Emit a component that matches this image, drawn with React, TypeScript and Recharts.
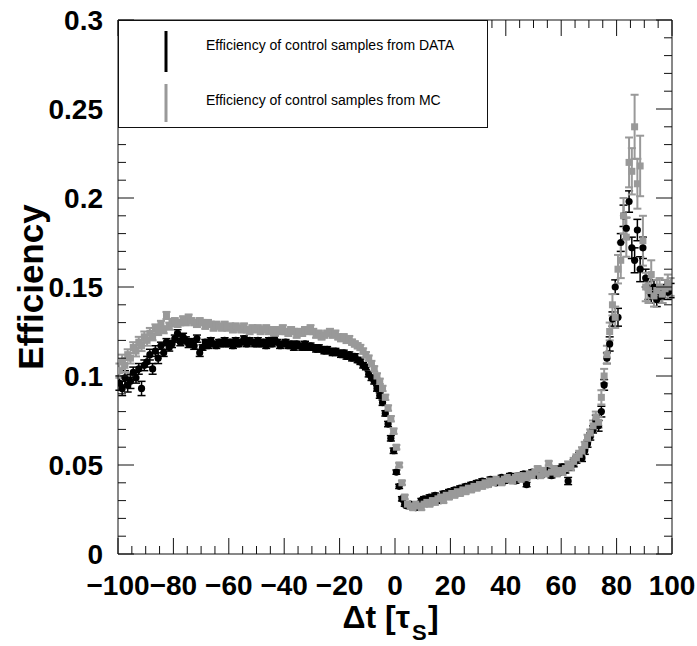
import React from "react";
import { ScatterChart, Scatter, XAxis, YAxis, ErrorBar } from "recharts";

// Bin centers of the Δt histogram (1 τS wide bins)
const BIN_CENTERS = [
  -99.5, -98.5, -97.5, -96.5, -95.5, -94.5, -93.5, -92.5, -91.5, -90.5,
  -89.5, -88.5, -87.5, -86.5, -85.5, -84.5, -83.5, -82.5, -81.5, -80.5,
  -79.5, -78.5, -77.5, -76.5, -75.5, -74.5, -73.5, -72.5, -71.5, -70.5,
  -69.5, -68.5, -67.5, -66.5, -65.5, -64.5, -63.5, -62.5, -61.5, -60.5,
  -59.5, -58.5, -57.5, -56.5, -55.5, -54.5, -53.5, -52.5, -51.5, -50.5,
  -49.5, -48.5, -47.5, -46.5, -45.5, -44.5, -43.5, -42.5, -41.5, -40.5,
  -39.5, -38.5, -37.5, -36.5, -35.5, -34.5, -33.5, -32.5, -31.5, -30.5,
  -29.5, -28.5, -27.5, -26.5, -25.5, -24.5, -23.5, -22.5, -21.5, -20.5,
  -19.5, -18.5, -17.5, -16.5, -15.5, -14.5, -13.5, -12.5, -11.5, -10.5,
  -9.5, -8.5, -7.5, -6.5, -5.5, -4.5, -3.5, -2.5, -1.5, -0.5,
  0.5, 1.5, 2.5, 3.5, 4.5, 5.5, 6.5, 7.5, 8.5, 9.5,
  10.5, 11.5, 12.5, 13.5, 14.5, 15.5, 16.5, 17.5, 18.5, 19.5,
  20.5, 21.5, 22.5, 23.5, 24.5, 25.5, 26.5, 27.5, 28.5, 29.5,
  30.5, 31.5, 32.5, 33.5, 34.5, 35.5, 36.5, 37.5, 38.5, 39.5,
  40.5, 41.5, 42.5, 43.5, 44.5, 45.5, 46.5, 47.5, 48.5, 49.5,
  50.5, 51.5, 52.5, 53.5, 54.5, 55.5, 56.5, 57.5, 58.5, 59.5,
  60.5, 61.5, 62.5, 63.5, 64.5, 65.5, 66.5, 67.5, 68.5, 69.5,
  70.5, 71.5, 72.5, 73.5, 74.5, 75.5, 76.5, 77.5, 78.5, 79.5,
  80.5, 81.5, 82.5, 83.5, 84.5, 85.5, 86.5, 87.5, 88.5, 89.5,
  90.5, 91.5, 92.5, 93.5, 94.5, 95.5, 96.5, 97.5, 98.5, 99.5,
];

// Efficiency of control samples from DATA
const DATA_EFF = [
  0.096, 0.093, 0.099, 0.095, 0.097, 0.102, 0.099, 0.104, 0.093, 0.106,
  0.108, 0.112, 0.104, 0.114, 0.110, 0.117, 0.113, 0.119, 0.116, 0.118,
  0.121, 0.124, 0.119, 0.122, 0.120, 0.118, 0.119, 0.117, 0.121, 0.113,
  0.116, 0.119, 0.117, 0.120, 0.118, 0.117, 0.119, 0.118, 0.120, 0.118,
  0.119, 0.117, 0.120, 0.118, 0.119, 0.121, 0.118, 0.120, 0.119, 0.118,
  0.120, 0.118, 0.119, 0.117, 0.120, 0.118, 0.121, 0.119, 0.117, 0.118,
  0.119, 0.117, 0.118, 0.116, 0.118, 0.117, 0.116, 0.118, 0.116, 0.117,
  0.116, 0.115, 0.116, 0.115, 0.114, 0.115, 0.114, 0.113, 0.114, 0.113,
  0.112, 0.113, 0.111, 0.112, 0.110, 0.111, 0.109, 0.108, 0.106, 0.105,
  0.101, 0.099, 0.097, 0.093, 0.089, 0.085, 0.079, 0.073, 0.065, 0.058,
  0.046, 0.038, 0.031, 0.028, 0.027, 0.028, 0.027, 0.026, 0.028, 0.030,
  0.031, 0.030, 0.032, 0.031, 0.033, 0.032, 0.030, 0.034, 0.033, 0.035,
  0.034, 0.036, 0.035, 0.037, 0.036, 0.038, 0.037, 0.039, 0.038, 0.040,
  0.039, 0.041, 0.040, 0.039, 0.042, 0.041, 0.040, 0.042, 0.043, 0.041,
  0.042, 0.044, 0.043, 0.041, 0.044, 0.043, 0.045, 0.039, 0.044, 0.046,
  0.045, 0.044, 0.046, 0.045, 0.047, 0.046, 0.044, 0.047, 0.048, 0.046,
  0.049, 0.047, 0.041, 0.049, 0.051, 0.053, 0.055, 0.054, 0.058, 0.062,
  0.066, 0.070, 0.075, 0.072, 0.080, 0.095, 0.110, 0.118, 0.132, 0.150,
  0.133, 0.175, 0.190, 0.183, 0.198, 0.172, 0.165, 0.182, 0.160, 0.172,
  0.155, 0.148, 0.146, 0.150, 0.143, 0.147, 0.145, 0.150, 0.147, 0.148,
];

const DATA_ERR = [
  0.004, 0.004, 0.004, 0.004, 0.004, 0.003, 0.003, 0.003, 0.004, 0.003,
  0.003, 0.003, 0.003, 0.003, 0.003, 0.002, 0.002, 0.002, 0.002, 0.002,
  0.002, 0.002, 0.002, 0.002, 0.002, 0.002, 0.002, 0.002, 0.002, 0.002,
  0.0015, 0.0015, 0.0015, 0.0015, 0.0015, 0.0015, 0.0015, 0.0015, 0.0015, 0.0015,
  0.0015, 0.0015, 0.0015, 0.0015, 0.0015, 0.0015, 0.0015, 0.0015, 0.0015, 0.0015,
  0.0015, 0.0015, 0.0015, 0.0015, 0.0015, 0.0015, 0.0015, 0.0015, 0.0015, 0.0015,
  0.0015, 0.0015, 0.0015, 0.0015, 0.0015, 0.0015, 0.0015, 0.0015, 0.0015, 0.0015,
  0.0015, 0.0015, 0.0015, 0.0015, 0.0015, 0.0015, 0.0015, 0.0015, 0.0015, 0.0015,
  0.0015, 0.0015, 0.0015, 0.0015, 0.0015, 0.0015, 0.0015, 0.0015, 0.0015, 0.0015,
  0.0015, 0.0015, 0.0015, 0.0015, 0.0015, 0.0015, 0.0015, 0.0015, 0.0015, 0.0015,
  0.0012, 0.0012, 0.0012, 0.0012, 0.0012, 0.0012, 0.0012, 0.0012, 0.0012, 0.0012,
  0.0012, 0.0012, 0.0012, 0.0012, 0.0012, 0.0012, 0.0012, 0.0012, 0.0012, 0.0012,
  0.0012, 0.0012, 0.0012, 0.0012, 0.0012, 0.0012, 0.0012, 0.0012, 0.0012, 0.0012,
  0.0012, 0.0012, 0.0012, 0.0012, 0.0012, 0.0012, 0.0012, 0.0012, 0.0012, 0.0012,
  0.0012, 0.0012, 0.0012, 0.0012, 0.0012, 0.0012, 0.0012, 0.0012, 0.0012, 0.0012,
  0.0012, 0.0012, 0.0012, 0.0012, 0.0012, 0.0012, 0.0012, 0.0012, 0.0012, 0.0012,
  0.0015, 0.0015, 0.002, 0.002, 0.002, 0.002, 0.002, 0.002, 0.002, 0.002,
  0.002, 0.002, 0.003, 0.003, 0.003, 0.003, 0.003, 0.004, 0.004, 0.004,
  0.005, 0.005, 0.006, 0.006, 0.006, 0.006, 0.007, 0.006, 0.007, 0.006,
  0.005, 0.005, 0.005, 0.004, 0.004, 0.004, 0.004, 0.004, 0.004, 0.004,
];

// Efficiency of control samples from MC
const MC_EFF = [
  0.103, 0.108, 0.106, 0.112, 0.110, 0.116, 0.114, 0.119, 0.117, 0.122,
  0.120, 0.124, 0.122, 0.127, 0.125, 0.129, 0.126, 0.134, 0.128, 0.130,
  0.131, 0.129, 0.130, 0.132, 0.130, 0.133, 0.131, 0.130, 0.129, 0.131,
  0.130, 0.128, 0.130, 0.129, 0.127, 0.129, 0.128, 0.127, 0.129, 0.127,
  0.128, 0.126, 0.128, 0.127, 0.126, 0.128, 0.126, 0.125, 0.127, 0.126,
  0.127, 0.125, 0.126, 0.127, 0.125, 0.126, 0.124, 0.126, 0.125, 0.127,
  0.125, 0.124, 0.126, 0.125, 0.123, 0.125, 0.124, 0.126, 0.125, 0.127,
  0.125, 0.123, 0.124, 0.122, 0.123, 0.124, 0.125, 0.123, 0.124, 0.122,
  0.121, 0.122, 0.120, 0.121, 0.119, 0.118, 0.117, 0.116, 0.114, 0.112,
  0.110, 0.107, 0.104, 0.100, 0.097, 0.093, 0.088, 0.082, 0.076, 0.069,
  0.060, 0.050, 0.040, 0.032, 0.028, 0.027, 0.026, 0.028, 0.027, 0.026,
  0.028, 0.029, 0.028, 0.030, 0.029, 0.031, 0.032, 0.030, 0.033, 0.032,
  0.034, 0.033, 0.035, 0.034, 0.036, 0.035, 0.037, 0.036, 0.038, 0.037,
  0.039, 0.038, 0.040, 0.039, 0.041, 0.040, 0.042, 0.041, 0.040, 0.042,
  0.043, 0.042, 0.041, 0.043, 0.044, 0.042, 0.044, 0.043, 0.045, 0.044,
  0.046, 0.048, 0.044, 0.047, 0.045, 0.051, 0.046, 0.048, 0.045, 0.047,
  0.046, 0.048, 0.050, 0.049, 0.052, 0.054, 0.056, 0.058, 0.061, 0.065,
  0.068, 0.072, 0.077, 0.074, 0.088, 0.100, 0.112, 0.125, 0.140, 0.133,
  0.160, 0.165, 0.190, 0.178, 0.220, 0.215, 0.240, 0.208, 0.218, 0.176,
  0.150, 0.148, 0.157, 0.145, 0.148, 0.150, 0.146, 0.149, 0.152, 0.150,
];

const MC_ERR = [
  0.004, 0.004, 0.004, 0.003, 0.003, 0.003, 0.003, 0.003, 0.003, 0.003,
  0.003, 0.003, 0.002, 0.002, 0.002, 0.002, 0.002, 0.002, 0.002, 0.002,
  0.0015, 0.0015, 0.0015, 0.0015, 0.0015, 0.0015, 0.0015, 0.0015, 0.0015, 0.0015,
  0.0015, 0.0015, 0.0015, 0.0015, 0.0015, 0.0015, 0.0015, 0.0015, 0.0015, 0.0015,
  0.0015, 0.0015, 0.0015, 0.0015, 0.0015, 0.0015, 0.0015, 0.0015, 0.0015, 0.0015,
  0.0015, 0.0015, 0.0015, 0.0015, 0.0015, 0.0015, 0.0015, 0.0015, 0.0015, 0.0015,
  0.0015, 0.0015, 0.0015, 0.0015, 0.0015, 0.0015, 0.0015, 0.0015, 0.0015, 0.0015,
  0.0015, 0.0015, 0.0015, 0.0015, 0.0015, 0.0015, 0.0015, 0.0015, 0.0015, 0.0015,
  0.0015, 0.0015, 0.0015, 0.0015, 0.0015, 0.0015, 0.0015, 0.0015, 0.0015, 0.0015,
  0.0015, 0.0015, 0.0015, 0.0015, 0.0015, 0.0015, 0.0015, 0.0015, 0.0015, 0.0015,
  0.0012, 0.0012, 0.0012, 0.0012, 0.0012, 0.0012, 0.0012, 0.0012, 0.0012, 0.0012,
  0.0012, 0.0012, 0.0012, 0.0012, 0.0012, 0.0012, 0.0012, 0.0012, 0.0012, 0.0012,
  0.0012, 0.0012, 0.0012, 0.0012, 0.0012, 0.0012, 0.0012, 0.0012, 0.0012, 0.0012,
  0.0012, 0.0012, 0.0012, 0.0012, 0.0012, 0.0012, 0.0012, 0.0012, 0.0012, 0.0012,
  0.0012, 0.0012, 0.0012, 0.0012, 0.0012, 0.0012, 0.0012, 0.0012, 0.0012, 0.0012,
  0.0012, 0.0012, 0.0012, 0.0012, 0.0012, 0.0012, 0.0012, 0.0012, 0.0012, 0.0012,
  0.0015, 0.0015, 0.002, 0.002, 0.002, 0.002, 0.002, 0.002, 0.002, 0.002,
  0.002, 0.003, 0.003, 0.003, 0.004, 0.004, 0.005, 0.005, 0.006, 0.006,
  0.008, 0.010, 0.010, 0.011, 0.014, 0.013, 0.018, 0.014, 0.017, 0.014,
  0.008, 0.007, 0.008, 0.006, 0.006, 0.005, 0.005, 0.005, 0.005, 0.005,
];

const X_TICKS = [
  -100, -95, -90, -85, -80, -75, -70, -65, -60, -55, -50, -45, -40, -35,
  -30, -25, -20, -15, -10, -5, 0, 5, 10, 15, 20, 25, 30, 35, 40, 45, 50,
  55, 60, 65, 70, 75, 80, 85, 90, 95, 100,
];
const Y_TICKS = [
  0, 0.01, 0.02, 0.03, 0.04, 0.05, 0.06, 0.07, 0.08, 0.09, 0.1, 0.11, 0.12,
  0.13, 0.14, 0.15, 0.16, 0.17, 0.18, 0.19, 0.2, 0.21, 0.22, 0.23, 0.24,
  0.25, 0.26, 0.27, 0.28, 0.29, 0.3,
];
const X_DOMAIN: [number, number] = [-100, 100];
const Y_DOMAIN: [number, number] = [0, 0.3];

const DATA_LABEL = "Efficiency of control samples from DATA";
const MC_LABEL = "Efficiency of control samples from MC";

const dataPoints = BIN_CENTERS.map((x, i) => ({ x, y: DATA_EFF[i], err: DATA_ERR[i] }));
const mcPoints = BIN_CENTERS.map((x, i) => ({ x, y: MC_EFF[i], err: MC_ERR[i] }));

// layout (pixels)
const W = 697;
const H = 646;
const M_TOP = 20;
const M_RIGHT = 25;
const Y_AXIS_W = 118;
const X_AXIS_H = 92;
const PLOT_LEFT = Y_AXIS_W;
const PLOT_RIGHT = W - M_RIGHT;
const PLOT_TOP = M_TOP;
const PLOT_BOTTOM = H - X_AXIS_H;
const MAJOR_PX = 16;
const MINOR_PX = 8;

// frame-edge tick positions for the mirrored (top / right) tick marks
const tickPx = (v: number, d: [number, number], a: number, b: number) => a + ((v - d[0]) / (d[1] - d[0])) * (b - a);

const FONT = "'Liberation Sans', Arial, Helvetica, sans-serif";
const GRAY = "#999999";
const FRAME = "#111";

const fmtX = (v: number) => (v < 0 ? "\u2212" + Math.abs(v) : String(v));
const isMajorX = (v: number) => Math.abs(v % 20) < 1e-9;
const isMajorY = (v: number) => Math.abs(v * 20 - Math.round(v * 20)) < 1e-6;

const BottomTick = (p: any) => {
  const { x, y, payload } = p;
  const major = isMajorX(payload.value);
  return (
    <g>
      <line x1={x} x2={x} y1={y} y2={y - (major ? MAJOR_PX : MINOR_PX)} stroke={FRAME} strokeWidth={1} />
      {major && (
        <text x={x} y={y + 41} textAnchor="middle" fontFamily={FONT} fontWeight="bold" fontSize={28} fill="#000">
          {fmtX(payload.value)}
        </text>
      )}
    </g>
  );
};

const LeftTick = (p: any) => {
  const { x, y, payload } = p;
  const major = isMajorY(payload.value);
  return (
    <g>
      <line x1={x} x2={x + (major ? MAJOR_PX : MINOR_PX)} y1={y} y2={y} stroke={FRAME} strokeWidth={1} />
      {major && (
        <text x={x - 15} y={y + 10} textAnchor="end" fontFamily={FONT} fontWeight="bold" fontSize={28} fill="#000">
          {String(payload.value)}
        </text>
      )}
    </g>
  );
};

const BlackDot = (p: any) => <circle cx={p.cx} cy={p.cy} r={3.6} fill="#000" />;
const GraySquare = (p: any) => <rect x={p.cx - 3.5} y={p.cy - 3.5} width={7} height={7} fill={GRAY} />;

export default function App() {
  return (
    <div style={{ position: "absolute", left: 0, top: 0, width: W, height: H, background: "#fff" }}>
      <ScatterChart width={W} height={H} margin={{ top: M_TOP, right: M_RIGHT, bottom: 0, left: 0 }}>
        <XAxis
          type="number"
          dataKey="x"
          orientation="bottom"
          domain={X_DOMAIN}
          ticks={X_TICKS}
          interval={0}
          allowDataOverflow
          height={X_AXIS_H}
          tickSize={0}
          tickMargin={0}
          tickLine={false}
          axisLine={{ stroke: FRAME, strokeWidth: 1 }}
          tick={<BottomTick />}
        />
        <YAxis
          type="number"
          dataKey="y"
          orientation="left"
          domain={Y_DOMAIN}
          ticks={Y_TICKS}
          interval={0}
          allowDataOverflow
          width={Y_AXIS_W}
          tickSize={0}
          tickMargin={0}
          tickLine={false}
          axisLine={{ stroke: FRAME, strokeWidth: 1 }}
          tick={<LeftTick />}
        />
        <Scatter name={DATA_LABEL} data={dataPoints} dataKey="y" shape={BlackDot} isAnimationActive={false}>
          <ErrorBar dataKey="err" direction="y" width={4} stroke="#000" strokeWidth={1.5} isAnimationActive={false} />
        </Scatter>
        <Scatter name={MC_LABEL} data={mcPoints} dataKey="y" shape={GraySquare} isAnimationActive={false}>
          <ErrorBar dataKey="err" direction="y" width={4} stroke={GRAY} strokeWidth={2} isAnimationActive={false} />
        </Scatter>
      </ScatterChart>
      <svg width={W} height={H} style={{ position: "absolute", left: 0, top: 0, pointerEvents: "none" }}>
        {/* frame: top and right edges with their mirrored tick marks */}
        <line x1={PLOT_LEFT} x2={PLOT_RIGHT} y1={PLOT_TOP} y2={PLOT_TOP} stroke={FRAME} strokeWidth={1} />
        <line x1={PLOT_RIGHT} x2={PLOT_RIGHT} y1={PLOT_TOP} y2={PLOT_BOTTOM} stroke={FRAME} strokeWidth={1} />
        {X_TICKS.map((v) => {
          const x = tickPx(v, X_DOMAIN, PLOT_LEFT, PLOT_RIGHT);
          return (
            <line
              key={"tx" + v}
              x1={x}
              x2={x}
              y1={PLOT_TOP}
              y2={PLOT_TOP + (isMajorX(v) ? MAJOR_PX : MINOR_PX)}
              stroke={FRAME}
              strokeWidth={1}
            />
          );
        })}
        {Y_TICKS.map((v) => {
          const y = tickPx(v, Y_DOMAIN, PLOT_BOTTOM, PLOT_TOP);
          return (
            <line
              key={"ty" + v}
              x1={PLOT_RIGHT}
              x2={PLOT_RIGHT - (isMajorY(v) ? MAJOR_PX : MINOR_PX)}
              y1={y}
              y2={y}
              stroke={FRAME}
              strokeWidth={1}
            />
          );
        })}
        {/* legend */}
        <rect x={118.5} y={20.5} width={369} height={107} fill="#fff" stroke={FRAME} strokeWidth={1} />
        <line x1={166} x2={166} y1={31} y2={72} stroke="#000" strokeWidth={3} />
        <text x={206} y={50} fontFamily={FONT} fontSize={14} fill="#000">{DATA_LABEL}</text>
        <line x1={166} x2={166} y1={84} y2={122} stroke={GRAY} strokeWidth={3} />
        <text x={206} y={105} fontFamily={FONT} fontSize={14} fill="#000">{MC_LABEL}</text>
        {/* axis titles */}
        <text
          transform="translate(43,287) rotate(-90)"
          textAnchor="middle"
          fontFamily={FONT}
          fontWeight="bold"
          fontSize={35}
          fill="#000"
        >
          Efficiency
        </text>
        <text x={410} y={628} textAnchor="end" fontFamily={FONT} fontWeight="bold" fontSize={32} fill="#000">
          Δt [τ
        </text>
        <text x={412} y={640} textAnchor="start" fontFamily={FONT} fontWeight="bold" fontSize={22} fill="#000">
          S
        </text>
        <text x={428} y={628} textAnchor="start" fontFamily={FONT} fontWeight="bold" fontSize={32} fill="#000">
          ]
        </text>
      </svg>
    </div>
  );
}
